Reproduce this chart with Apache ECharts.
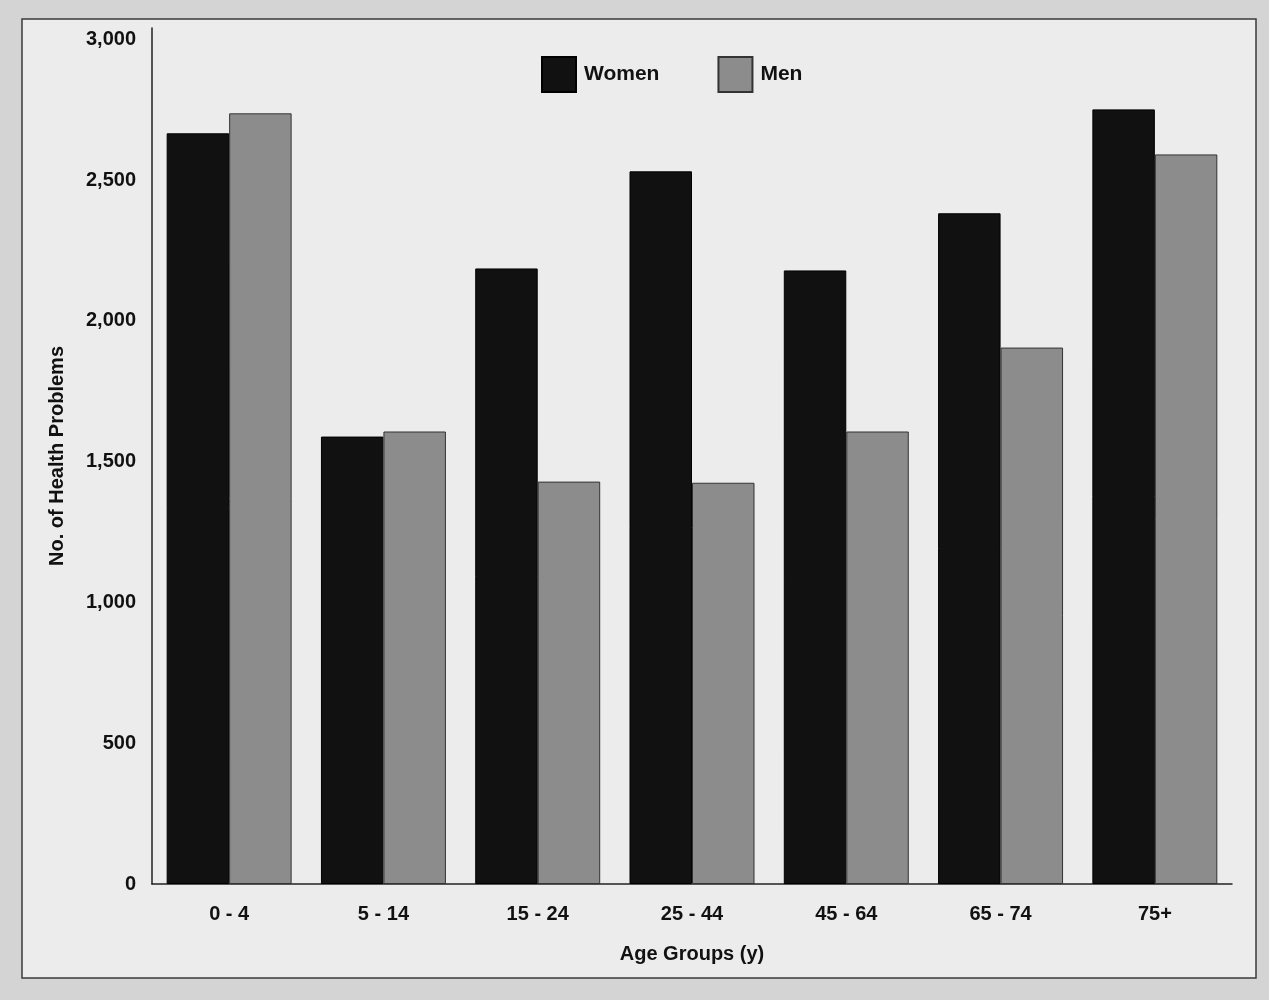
<!DOCTYPE html>
<html>
<head>
<meta charset="utf-8">
<script src="https://cdn.jsdelivr.net/npm/echarts@6/dist/echarts.min.js"></script>
<style>
html,body{margin:0;padding:0;background:#d4d4d4;}
#chart{width:1269px;height:1000px;}
</style>
</head>
<body>
<div id="chart"></div>
<script>
const categories = ['0 - 4', '5 - 14', '15 - 24', '25 - 44', '45 - 64', '65 - 74', '75+'];
const women = [2666, 1589, 2186, 2531, 2179, 2382, 2751];
const men = [2737, 1607, 1429, 1425, 1607, 1905, 2591];
const yTicks = [0, 500, 1000, 1500, 2000, 2500, 3000];

const font = '"Liberation Sans", Arial, sans-serif';
const chart = echarts.init(document.getElementById('chart'));
chart.setOption({
  backgroundColor: '#d4d4d4',
  animation: false,
  graphic: [{
    type: 'rect',
    z: -10,
    shape: {x: 22, y: 19, width: 1234, height: 959},
    style: {fill: '#ececec', stroke: '#3a3a3a', lineWidth: 1.5}
  }],
  legend: {
    data: ['Women', 'Men'],
    icon: 'rect',
    left: 536,
    top: 51,
    itemWidth: 34,
    itemHeight: 35,
    itemGap: 58,
    textStyle: {fontFamily: font, fontWeight: 'bold', fontSize: 21, color: '#111', padding: [14, 0, 0, 3]}
  },
  grid: {left: 152, right: 37, top: 28, bottom: 116, containLabel: false},
  xAxis: {
    type: 'category',
    data: categories,
    name: 'Age Groups (y)',
    nameLocation: 'middle',
    nameGap: 60,
    nameTextStyle: {fontFamily: font, fontWeight: 'bold', fontSize: 20, color: '#111'},
    axisLine: {lineStyle: {color: '#222', width: 1.5}},
    axisTick: {show: false},
    axisLabel: {fontFamily: font, fontWeight: 'bold', fontSize: 20, color: '#111', margin: 20}
  },
  yAxis: {
    type: 'value',
    min: 0,
    max: 3040,
    interval: 500,
    name: 'No. of Health Problems',
    nameLocation: 'middle',
    nameGap: 85,
    nameTextStyle: {fontFamily: font, fontWeight: 'bold', fontSize: 20, color: '#111'},
    splitLine: {show: false},
    axisTick: {show: false},
    axisLine: {show: true, lineStyle: {color: '#222', width: 1.5}},
    axisLabel: {
      fontFamily: font, fontWeight: 'bold', fontSize: 20, color: '#111', margin: 16,
      showMaxLabel: false,
      formatter: function (v) { return yTicks.indexOf(v) >= 0 ? v.toLocaleString('en-US') : ''; }
    }
  },
  series: [
    {
      name: 'Women', type: 'bar', data: women,
      barGap: '0%', barCategoryGap: '19%',
      itemStyle: {color: '#111111', borderColor: '#000', borderWidth: 1}
    },
    {
      name: 'Men', type: 'bar', data: men,
      barGap: '0%', barCategoryGap: '19%',
      itemStyle: {color: '#8c8c8c', borderColor: '#333', borderWidth: 1}
    }
  ]
});
</script>
</body>
</html>
